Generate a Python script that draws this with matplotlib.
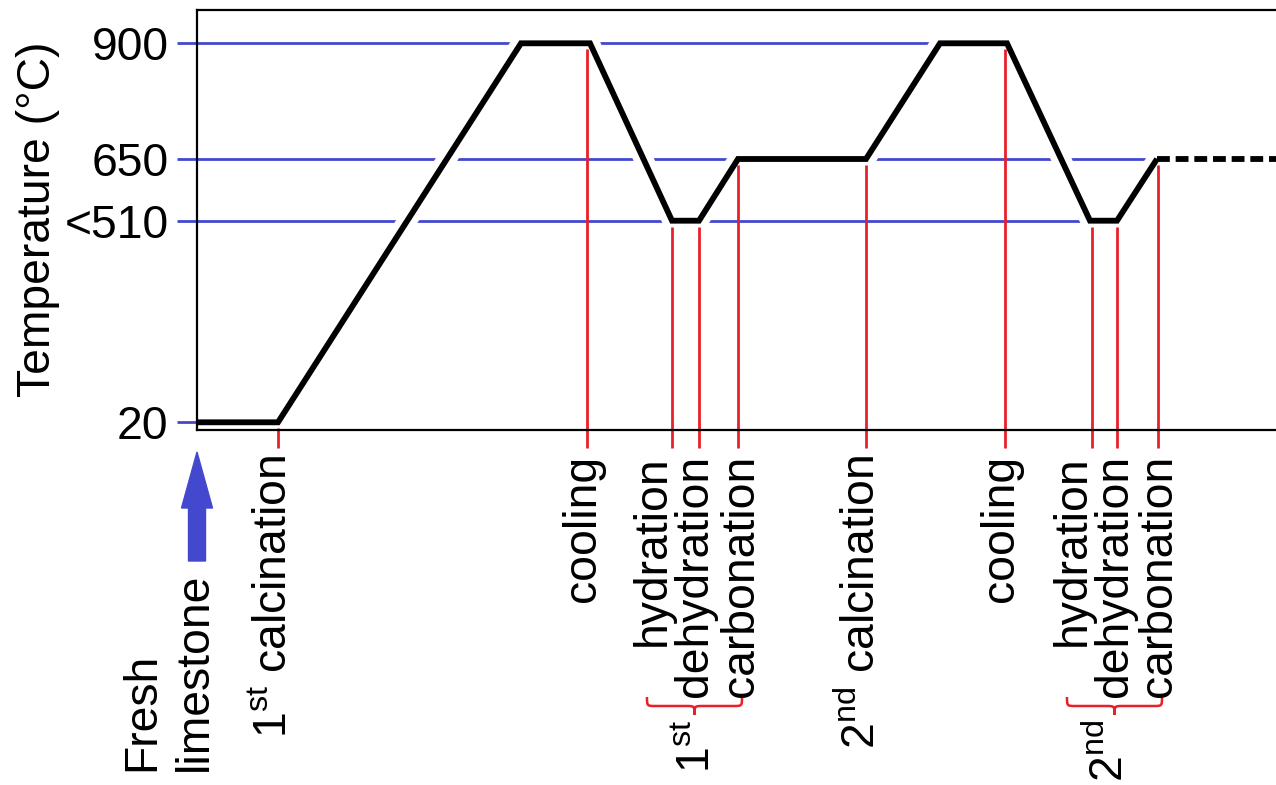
import numpy as np
import matplotlib
matplotlib.use("Agg")
from matplotlib import pyplot as plt
from matplotlib import transforms as mtransforms
from matplotlib.path import Path
from matplotlib.patches import PathPatch, FancyArrow

# temperature profile of the looping cycle (time in arbitrary units)
profile_t = [0, 8.1, 32.4, 39.3, 47.5, 50.2, 54.1, 66.9, 74.3, 81.0, 89.3, 92.0, 96.0]
profile_T = [20, 20, 900, 900, 510, 510, 650, 650, 900, 900, 510, 510, 650]
continue_t = [96.0, 108.0]
continue_T = [650, 650]

# reference temperature levels and where their guide lines stop
levels = [900, 650, 510, 20]
level_ends = [74.3, 96.0, 89.3, 0.0]
level_labels = ["900", "650", "<510", "20"]

# process steps marked along the time axis
step_t = [8.1, 39.0, 47.5, 50.2, 54.1, 66.9, 80.8, 89.5, 92.0, 96.1]
step_T = [20, 900, 510, 510, 650, 650, 900, 510, 510, 650]
step_names = [r"1$^{\mathrm{st}}$ calcination", "cooling", "hydration", "dehydration",
              "carbonation", r"2$^{\mathrm{nd}}$ calcination", "cooling", "hydration",
              "dehydration", "carbonation"]
label_x = [9.0, 39.8, 46.8, 51.0, 55.6, 67.8, 81.6, 88.8, 93.0, 97.4]

# hydration/dehydration/carbonation groups
groups = [r"1$^{\mathrm{st}}$", r"2$^{\mathrm{nd}}$"]
group_span = [(45.0, 54.5), (87.0, 96.5)]
group_label_x = [51.3, 92.6]

BLUE = "#4348CF"
RED = "#E8202A"
FS = 33.3

plt.rcParams["font.family"] = ["Liberation Sans", "DejaVu Sans"]
plt.rcParams["mathtext.fontset"] = "custom"
plt.rcParams["mathtext.rm"] = "Liberation Sans"

W, H = 1276, 785
AX_H = 419.5
fig = plt.figure(figsize=(W / 100, H / 100), dpi=100)
ax = fig.add_axes([197 / W, 1 - 429.5 / H, 1079 / W, AX_H / H])

# schematic (non-linear) temperature axis
anch_T = [0, 20, 510, 650, 900, 972]
anch_p = [0, 7.2, 208.8, 270.5, 386.2, 419.5]
ax.set_yscale("function", functions=(lambda v: np.interp(v, anch_T, anch_p),
                                     lambda p: np.interp(p, anch_p, anch_T)))
ax.set_ylim(0, 972)
ax.set_xlim(0, 107.9)

for s in ["left", "top", "bottom"]:
    ax.spines[s].set_linewidth(1.6)
ax.spines["right"].set_visible(False)
ax.set_xticks([])
ax.set_yticks(levels)
ax.set_yticklabels(level_labels, fontsize=FS)
ax.tick_params(axis="y", length=0, pad=20.5)

# blue guide lines, starting a little left of the axis
for lev, end in zip(levels, level_ends):
    ax.plot([-2, end], [lev, lev], color=BLUE, lw=2.0, zorder=1, clip_on=False,
            solid_capstyle="butt")

# white band under the curve so the guide lines break where it crosses them
ax.plot(profile_t, profile_T, color="white", lw=14, zorder=1.8,
        solid_joinstyle="round", solid_capstyle="butt")

# red step markers, from just under the curve down below the axis
ybot = -18.5 / AX_H
trans_step = mtransforms.blended_transform_factory(ax.transData, ax.transAxes)
for t, T in zip(step_t, step_T):
    ytop = (np.interp(T, anch_T, anch_p) - 6) / AX_H
    ax.plot([t, t], [ytop, ybot], color=RED, lw=2.0, zorder=2.0,
            transform=trans_step, clip_on=False, solid_capstyle="butt")

ax.plot(profile_t, profile_T, color="black", lw=4.2, zorder=2.2,
        solid_joinstyle="miter", solid_capstyle="butt")
ax.plot(continue_t, continue_T, color="black", lw=4.2, zorder=2.2,
        linestyle=(0, (2.2, 1.0)), dash_capstyle="butt")

# texts below the axis use data x and figure y
trans_lab = mtransforms.blended_transform_factory(ax.transData, fig.transFigure)


def fy(px):
    return 1 - px / H


for name, x in zip(step_names, label_x):
    ax.text(x, fy(455), name, transform=trans_lab, rotation=90, rotation_mode="anchor",
            ha="right", va="baseline", fontsize=FS, clip_on=False)


# curly braces grouping the three steps of each cycle
def brace(x0, x1, ytop, ymid, ytip):
    xc = (x0 + x1) / 2
    r = (x1 - x0) * 0.09
    verts = [(x0, ytop), (x0, ymid), (x0, ymid), (x0 + r, ymid),
             (xc - r, ymid),
             (xc, ymid), (xc, ymid), (xc, ytip),
             (xc, ymid), (xc, ymid), (xc + r, ymid),
             (x1 - r, ymid),
             (x1, ymid), (x1, ymid), (x1, ytop)]
    codes = [Path.MOVETO, Path.CURVE4, Path.CURVE4, Path.CURVE4, Path.LINETO,
             Path.CURVE4, Path.CURVE4, Path.CURVE4,
             Path.CURVE4, Path.CURVE4, Path.CURVE4, Path.LINETO,
             Path.CURVE4, Path.CURVE4, Path.CURVE4]
    return Path(verts, codes)


for (x0, x1), gx, g in zip(group_span, group_label_x, groups):
    ax.add_patch(PathPatch(brace(x0, x1, fy(697), fy(706), fy(715)), transform=trans_lab,
                           fill=False, edgecolor=RED, lw=1.8, clip_on=False))
    ax.text(gx, fy(720), g, transform=trans_lab, rotation=90, rotation_mode="anchor",
            ha="right", va="baseline", fontsize=FS, clip_on=False)

# fresh limestone fed in at the start
ax.add_patch(FancyArrow(0, fy(561), 0, fy(452) - fy(561), width=1.7, head_width=3.1,
                        head_length=56 / H, length_includes_head=True, color=BLUE,
                        transform=trans_lab, clip_on=False))
for word, x in [("Fresh", -4.3), ("limestone", 1.0)]:
    ax.text(x, fy(771), word, transform=trans_lab, rotation=90, rotation_mode="anchor",
            ha="left", va="baseline", fontsize=FS, clip_on=False)

fig.text(38 / W, fy(219), "Temperature (°C)", rotation=90, ha="center", va="center",
         fontsize=FS)

fig.savefig("out.png", dpi=100)
